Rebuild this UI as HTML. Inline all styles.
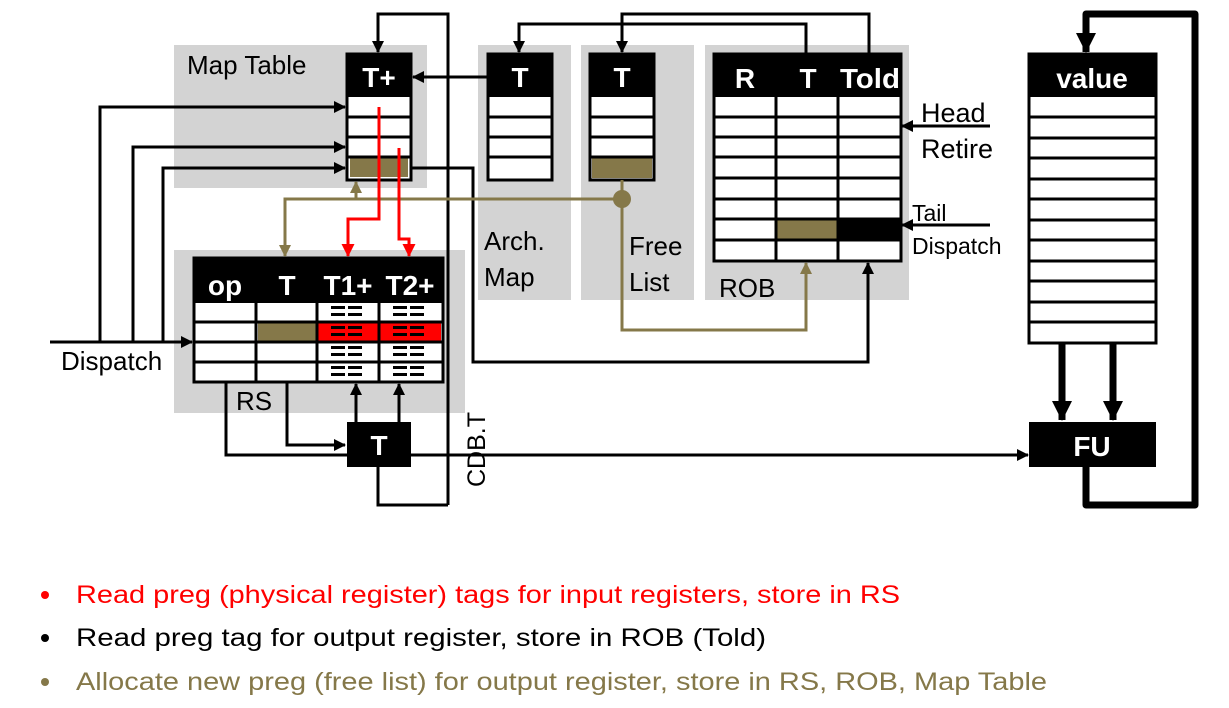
<!DOCTYPE html>
<html><head><meta charset="utf-8"><style>
html,body{margin:0;padding:0;background:#fff;}
svg{display:block;font-family:"Liberation Sans",Arial,sans-serif;}
</style></head><body>
<svg width="1229" height="708" viewBox="0 0 1229 708" xmlns="http://www.w3.org/2000/svg">
<defs>
<marker id="a" markerWidth="12" markerHeight="12" refX="11" refY="6" orient="auto" markerUnits="userSpaceOnUse"><path d="M0,0 L12,6 L0,12z" fill="#000"/></marker>
<marker id="ar" markerWidth="13" markerHeight="13" refX="12" refY="6.5" orient="auto" markerUnits="userSpaceOnUse"><path d="M0,0 L13,6.5 L0,13z" fill="#f00"/></marker>
<marker id="ao" markerWidth="12" markerHeight="12" refX="11" refY="6" orient="auto" markerUnits="userSpaceOnUse"><path d="M0,0 L12,6 L0,12z" fill="#857849"/></marker>
<marker id="ab" markerWidth="20" markerHeight="20" refX="19" refY="10" orient="auto" markerUnits="userSpaceOnUse"><path d="M0,0 L20,10 L0,20z" fill="#000"/></marker>
</defs>
<g fill="#d3d3d3">
<rect x="174" y="45" width="253" height="143"/>
<rect x="478" y="45" width="93" height="255"/>
<rect x="581" y="45" width="113" height="255"/>
<rect x="705" y="45" width="204" height="255"/>
<rect x="174" y="250" width="291" height="163"/>
</g>
<text x="187" y="74" font-size="26">Map Table</text>
<rect x="347" y="54" width="64" height="126" fill="#fff" stroke="#000" stroke-width="3"/>
<rect x="347" y="54" width="64" height="43" fill="#000"/>
<rect x="350" y="158" width="58" height="19" fill="#857849"/>
<g stroke="#000" stroke-width="3"><line x1="347" y1="117" x2="411" y2="117"/><line x1="347" y1="137" x2="411" y2="137"/><line x1="347" y1="157" x2="411" y2="157"/></g>
<text x="379" y="87" font-size="28" font-weight="bold" fill="#fff" text-anchor="middle">T+</text>
<rect x="488" y="54" width="64" height="126" fill="#fff" stroke="#000" stroke-width="3"/>
<rect x="488" y="54" width="64" height="43" fill="#000"/>
<g stroke="#000" stroke-width="3"><line x1="488" y1="117" x2="552" y2="117"/><line x1="488" y1="137" x2="552" y2="137"/><line x1="488" y1="157" x2="552" y2="157"/></g>
<text x="520" y="87" font-size="28" font-weight="bold" fill="#fff" text-anchor="middle">T</text>
<text x="484" y="250" font-size="26">Arch.</text><text x="484" y="286" font-size="26">Map</text>
<rect x="590" y="54" width="64" height="126" fill="#fff" stroke="#000" stroke-width="3"/>
<rect x="590" y="54" width="64" height="43" fill="#000"/>
<rect x="592" y="158" width="60" height="20" fill="#857849"/>
<g stroke="#000" stroke-width="3"><line x1="590" y1="117" x2="654" y2="117"/><line x1="590" y1="137" x2="654" y2="137"/><line x1="590" y1="157" x2="654" y2="157"/></g>
<text x="622" y="87" font-size="28" font-weight="bold" fill="#fff" text-anchor="middle">T</text>
<text x="629" y="255" font-size="26">Free</text><text x="629" y="291" font-size="26">List</text>
<rect x="714" y="54" width="187" height="207" fill="#fff" stroke="#000" stroke-width="3"/>
<rect x="714" y="54" width="187" height="43" fill="#000"/>
<rect x="777" y="220" width="61" height="19" fill="#857849"/>
<rect x="838" y="220" width="63" height="19" fill="#000"/>
<g stroke="#000" stroke-width="3">
<line x1="714" y1="117" x2="901" y2="117"/><line x1="714" y1="137" x2="901" y2="137"/><line x1="714" y1="157" x2="901" y2="157"/><line x1="714" y1="178" x2="901" y2="178"/><line x1="714" y1="199" x2="901" y2="199"/><line x1="714" y1="219" x2="901" y2="219"/><line x1="714" y1="240" x2="901" y2="240"/>
<line x1="776" y1="97" x2="776" y2="261"/><line x1="838" y1="97" x2="838" y2="261"/>
</g>
<text x="745" y="88" font-size="28" font-weight="bold" fill="#fff" text-anchor="middle">R</text>
<text x="808" y="88" font-size="28" font-weight="bold" fill="#fff" text-anchor="middle">T</text>
<text x="870" y="88" font-size="28" font-weight="bold" fill="#fff" text-anchor="middle" textLength="60" lengthAdjust="spacingAndGlyphs">Told</text>
<text x="719" y="297" font-size="26">ROB</text>
<text x="921" y="122" font-size="27">Head</text><text x="921" y="158" font-size="27">Retire</text>
<text x="912" y="221" font-size="23">Tail</text><text x="912" y="254" font-size="23">Dispatch</text>
<g stroke="#000" stroke-width="3" fill="none">
<line x1="990" y1="126" x2="902" y2="126" marker-end="url(#a)"/>
<line x1="990" y1="225" x2="902" y2="225" marker-end="url(#a)"/>
</g>
<rect x="194" y="258" width="249" height="124" fill="#fff" stroke="#000" stroke-width="3"/>
<rect x="194" y="258" width="249" height="45" fill="#000"/>
<rect x="258" y="323" width="58" height="18" fill="#857849"/>
<rect x="318" y="323" width="60" height="18" fill="#f00"/>
<rect x="380" y="323" width="61" height="18" fill="#f00"/>
<g stroke="#000" stroke-width="3">
<line x1="194" y1="322" x2="443" y2="322"/><line x1="194" y1="342" x2="443" y2="342"/><line x1="194" y1="362" x2="443" y2="362"/>
<line x1="256" y1="303" x2="256" y2="382"/><line x1="317" y1="303" x2="317" y2="382"/><line x1="379" y1="303" x2="379" y2="382"/>
</g>
<g fill="#000">
<g id="m"><rect x="331" y="306" width="14" height="3"/><rect x="348" y="306" width="14" height="3"/><rect x="331" y="313" width="14" height="3"/><rect x="348" y="313" width="14" height="3"/></g>
<use href="#m" x="62"/><use href="#m" y="20"/><use href="#m" x="62" y="20"/><use href="#m" y="40"/><use href="#m" x="62" y="40"/><use href="#m" y="60"/><use href="#m" x="62" y="60"/>
</g>
<text x="225" y="295" font-size="28" font-weight="bold" fill="#fff" text-anchor="middle">op</text>
<text x="287" y="295" font-size="28" font-weight="bold" fill="#fff" text-anchor="middle">T</text>
<text x="348" y="295" font-size="28" font-weight="bold" fill="#fff" text-anchor="middle">T1+</text>
<text x="410" y="295" font-size="28" font-weight="bold" fill="#fff" text-anchor="middle">T2+</text>
<text x="236" y="410" font-size="26">RS</text>
<text x="61" y="370" font-size="26">Dispatch</text>
<rect x="347" y="422" width="64" height="45" fill="#000"/>
<text x="379" y="455" font-size="28" font-weight="bold" fill="#fff" text-anchor="middle">T</text>
<text transform="translate(485,487) rotate(-90)" font-size="25">CDB.T</text>
<g stroke="#000" stroke-width="3" fill="none">
<line x1="50" y1="342" x2="192" y2="342" marker-end="url(#a)"/>
<polyline points="100,342 100,107 345,107" marker-end="url(#a)"/>
<polyline points="133,342 133,147 345,147" marker-end="url(#a)"/>
<polyline points="163,342 163,168 345,168" marker-end="url(#a)"/>
<polyline points="448,505 448,14 378,14 378,52" marker-end="url(#a)"/>
<polyline points="448,505 378,505 378,467"/>
<line x1="488" y1="77" x2="413" y2="77" marker-end="url(#a)"/>
<polyline points="869,54 869,14 622,14 622,52" marker-end="url(#a)"/>
<polyline points="806,54 806,24 519,24 519,52" marker-end="url(#a)"/>
<polyline points="411,168 473,168 473,362 868,362 868,263" marker-end="url(#a)"/>
<polyline points="226,382 226,455 347,455"/>
<polyline points="287,382 287,445 345,445" marker-end="url(#a)"/>
<line x1="356" y1="422" x2="356" y2="384" marker-end="url(#a)"/>
<line x1="399" y1="422" x2="399" y2="384" marker-end="url(#a)"/>
<line x1="411" y1="455" x2="1028" y2="455" marker-end="url(#a)"/>
</g>
<g stroke="#857849" stroke-width="3" fill="none">
<polyline points="622,180 622,330 806,330 806,263" marker-end="url(#ao)"/>
<polyline points="622,199 285,199 285,256" marker-end="url(#ao)"/>
<line x1="356" y1="199" x2="356" y2="182" marker-end="url(#ao)"/>
</g>
<circle cx="622" cy="199" r="9" fill="#857849"/>
<g stroke="#f00" stroke-width="3" fill="none">
<polyline points="379,107 379,219 348,219 348,256" marker-end="url(#ar)"/>
<polyline points="399,148 399,239 409,239 409,256" marker-end="url(#ar)"/>
</g>
<rect x="1029" y="54" width="127" height="289" fill="#fff" stroke="#000" stroke-width="3"/>
<rect x="1029" y="54" width="127" height="43" fill="#000"/>
<g stroke="#000" stroke-width="3">
<line x1="1029" y1="117" x2="1156" y2="117"/><line x1="1029" y1="138" x2="1156" y2="138"/><line x1="1029" y1="158" x2="1156" y2="158"/><line x1="1029" y1="179" x2="1156" y2="179"/><line x1="1029" y1="199" x2="1156" y2="199"/><line x1="1029" y1="220" x2="1156" y2="220"/><line x1="1029" y1="240" x2="1156" y2="240"/><line x1="1029" y1="261" x2="1156" y2="261"/><line x1="1029" y1="281" x2="1156" y2="281"/><line x1="1029" y1="302" x2="1156" y2="302"/><line x1="1029" y1="322" x2="1156" y2="322"/>
</g>
<text x="1092" y="88" font-size="28" font-weight="bold" fill="#fff" text-anchor="middle">value</text>
<rect x="1029" y="422" width="127" height="45" fill="#000"/>
<text x="1092" y="456" font-size="28" font-weight="bold" fill="#fff" text-anchor="middle">FU</text>
<g stroke="#000" stroke-width="7" fill="none" stroke-linejoin="round">
<line x1="1062" y1="343" x2="1062" y2="420" marker-end="url(#ab)"/>
<line x1="1113" y1="343" x2="1113" y2="420" marker-end="url(#ab)"/>
<polyline points="1086,467 1086,505 1195,505 1195,14 1086,14 1086,52" marker-end="url(#ab)"/>
</g>
<circle cx="45" cy="595" r="4" fill="#f00"/>
<circle cx="45" cy="638" r="4" fill="#000"/>
<circle cx="45" cy="682" r="4" fill="#857849"/>
<text x="76" y="603" font-size="25" fill="#f00" textLength="824" lengthAdjust="spacingAndGlyphs">Read preg (physical register) tags for input registers, store in RS</text>
<text x="76" y="646" font-size="25" fill="#000" textLength="690" lengthAdjust="spacingAndGlyphs">Read preg tag for output register, store in ROB (Told)</text>
<text x="76" y="690" font-size="25" fill="#857849" textLength="971" lengthAdjust="spacingAndGlyphs">Allocate new preg (free list) for output register, store in RS, ROB, Map Table</text>
</svg>
</body></html>
